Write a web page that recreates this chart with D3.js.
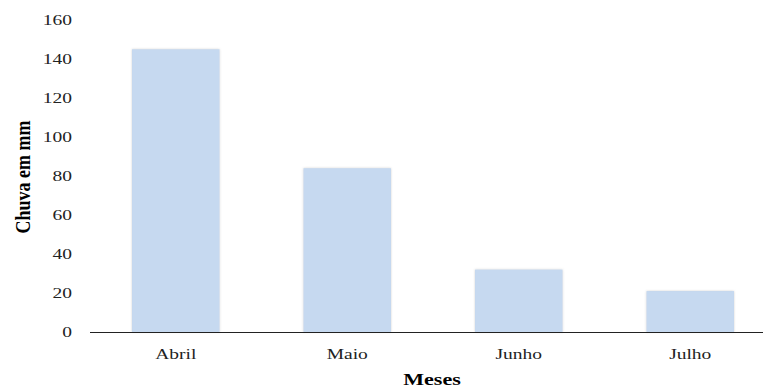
<!DOCTYPE html>
<html>
<head>
<meta charset="utf-8">
<script src="https://cdn.jsdelivr.net/npm/d3@7"></script>
<style>
  body { margin: 0; background: #fff; }
  text { font-family: "Liberation Serif", "Times New Roman", serif; }
</style>
</head>
<body>
<div id="chart"></div>
<script>
var months = ["Abril", "Maio", "Junho", "Julho"];
var rain = [145, 84, 32, 21];
var yTicks = [0, 20, 40, 60, 80, 100, 120, 140, 160];

var W = 763, H = 388;
var mLeft = 90, mBottom = 332, mTop = 20;
var stretch = 1.3; // the original picture is widened horizontally

var svg = d3.select("#chart")
    .append("svg")
    .attr("width", W)
    .attr("height", H);

var x = d3.scaleBand()
    .domain(months)
    .range([mLeft, 776])
    .paddingInner(0.49)
    .paddingOuter(0.245);

var y = d3.scaleLinear()
    .domain([0, 160])
    .range([mBottom, mTop]);

// soft shadow like the original
var defs = svg.append("defs");
var f = defs.append("filter").attr("id", "sh").attr("x", "-10%").attr("y", "-10%").attr("width", "120%").attr("height", "120%");
f.append("feDropShadow").attr("dx", 0).attr("dy", 0).attr("stdDeviation", 1)
    .attr("flood-color", "#999").attr("flood-opacity", 0.45);

svg.selectAll(".bar")
    .data(rain)
    .enter()
    .append("rect")
    .attr("class", "bar")
    .attr("x", (d, i) => x(months[i]))
    .attr("y", d => y(d))
    .attr("width", x.bandwidth())
    .attr("height", d => mBottom - y(d))
    .attr("fill", "#c6d9f0")
    .attr("filter", "url(#sh)");

// y tick labels
svg.selectAll(".ytick")
    .data(yTicks)
    .enter()
    .append("text")
    .attr("class", "ytick")
    .attr("transform", d => `translate(72,${y(d)}) scale(${stretch},1)`)
    .attr("dy", "0.35em")
    .attr("text-anchor", "end")
    .attr("font-size", "15px")
    .attr("fill", "#222")
    .text(d => d);

// x axis line
svg.append("line")
    .attr("x1", mLeft).attr("x2", W)
    .attr("y1", mBottom + 0.5).attr("y2", mBottom + 0.5)
    .attr("stroke", "#222").attr("stroke-width", 1.2);

// category labels
svg.selectAll(".xtick")
    .data(months)
    .enter()
    .append("text")
    .attr("class", "xtick")
    .attr("transform", d => `translate(${x(d) + x.bandwidth() / 2},354) scale(${stretch},1)`)
    .attr("dy", "0.35em")
    .attr("text-anchor", "middle")
    .attr("font-size", "15px")
    .attr("fill", "#222")
    .text(d => d);

// axis titles
svg.append("text")
    .attr("transform", `translate(432,379) scale(${stretch},1)`)
    .attr("dy", "0.35em")
    .attr("text-anchor", "middle")
    .attr("font-size", "17px")
    .attr("font-weight", "bold")
    .text("Meses");

svg.append("text")
    .attr("transform", "translate(22,177) rotate(-90) scale(1,1.2)")
    .attr("dy", "0.35em")
    .attr("text-anchor", "middle")
    .attr("font-size", "18px")
    .attr("font-weight", "bold")
    .text("Chuva em mm");
</script>
</body>
</html>
